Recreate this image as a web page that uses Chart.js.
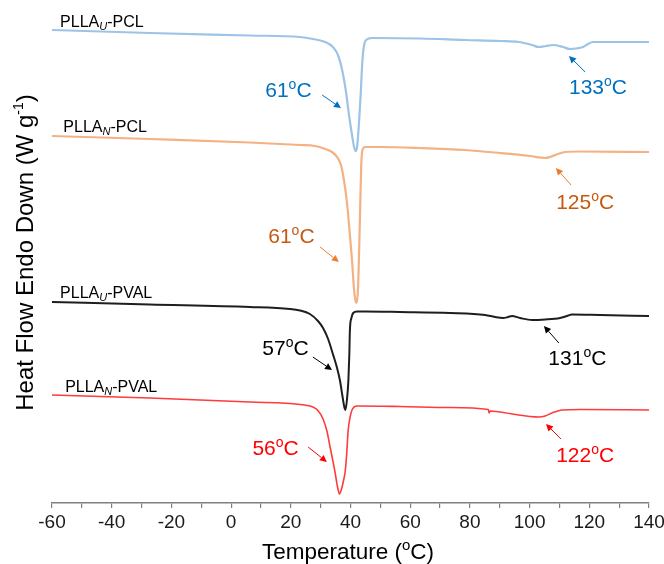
<!DOCTYPE html>
<html>
<head>
<meta charset="utf-8">
<script src="https://cdn.jsdelivr.net/npm/chart.js@4.4.1/dist/chart.umd.min.js"></script>
<style>
html,body{margin:0;padding:0;background:#ffffff;}
#wrap{width:664px;height:564px;position:relative;}
</style>
</head>
<body>
<div id="wrap"><canvas id="c" width="664" height="564"></canvas></div>
<script>
// ---- Data (temperature in ºC, heat flow in arbitrary offset units) ----
const xTickValues = [-60, -40, -20, 0, 20, 40, 60, 80, 100, 120, 140];

const pclU_T  = [-60, -27.2, 6.3, 23.1, 27.4, 31.5, 34.1, 35.8, 37.2, 38.5, 39.5, 40.5, 41.2, 41.7, 42.2, 42.8, 43.4, 43.9, 44.4, 45.2, 47.2, 63.3, 78.4, 90.1, 96.4, 100.8, 103.1, 105.5, 107.8, 111.2, 113.5, 115.5, 117.9, 119.6, 121.2, 126.9, 140];
const pclU_HF = [473, 470, 467.5, 466, 464, 461, 456, 448, 433, 411, 388, 368, 356, 352, 356, 378, 408, 438, 455, 463, 465, 464.5, 463, 462, 461, 458, 456, 457, 458, 456, 454, 454.5, 456, 459, 461, 461, 461];

const pclN_T  = [-60, -27.2, 6.3, 23.1, 28.1, 31.5, 33.8, 35.5, 36.8, 37.8, 38.8, 39.8, 40.5, 41.2, 41.7, 42.0, 42.5, 42.9, 43.3, 43.6, 44.0, 44.9, 49.9, 63.3, 78.4, 90.1, 100.1, 105.2, 106.8, 109.5, 111.9, 116.9, 140];
const pclN_HF = [367, 364, 360.5, 358, 357, 354, 351, 346, 338, 323, 301, 268, 243, 213, 202, 200, 213, 253, 303, 338, 353, 356, 356, 355, 353, 350, 347, 345, 346, 349, 351, 351.5, 351];

const pvalU_T  = [-60, -27.2, 6.3, 19.7, 23.1, 26.4, 29.1, 30.8, 32.5, 34.1, 35.5, 36.5, 37.3, 38.0, 38.3, 38.8, 39.3, 39.6, 39.8, 40.3, 40.9, 42.2, 44.9, 56.6, 73.3, 85.1, 88.4, 91.1, 92.8, 94.1, 96.8, 100.8, 105.2, 110.2, 112.5, 114.2, 123.6, 140];
const pvalU_HF = [201, 198.5, 196, 194, 192.5, 189, 182, 175, 164, 149, 135, 122, 107, 95, 93, 103, 123, 148, 173, 185, 190, 191.5, 191.5, 191, 190, 188, 186, 185, 186, 187, 185, 183, 183.5, 185, 187, 188.5, 188, 187];

const pvalN_T  = [-60, -27.2, 6.3, 23.1, 27.4, 29.1, 30.8, 32.1, 33.1, 34.1, 34.8, 35.6, 36.3, 37.0, 37.7, 38.2, 38.7, 39.2, 39.8, 40.5, 42.2, 56.6, 73.3, 86.2, 86.4, 86.7, 90.1, 96.4, 100.1, 103.1, 105.2, 107.5, 110.9, 116.9, 140];
const pvalN_HF = [108, 105, 101, 98.5, 96, 92.5, 84, 72, 57, 42, 31, 17, 9, 14, 23, 31, 48, 72, 85, 93, 97, 96.5, 95.5, 93.5, 90, 92, 91, 88, 86.5, 86, 87, 90, 93, 93.5, 93];

// Series names: [main, subscript, suffix]
const seriesNames = [['PLLA', 'U', '-PCL'], ['PLLA', 'N', '-PCL'], ['PLLA', 'U', '-PVAL'], ['PLLA', 'N', '-PVAL']];
// Peak temperature labels (ºC)
const peakLabels = ['61', '133', '61', '125', '57', '131', '56', '122'];

// ---- Presentation ----
const FONT = '"Liberation Sans", Arial, Helvetica, sans-serif';
const lineColors = ['#9DC3E6', '#F4B183', '#1E1E1E', '#FF3B3B'];
const textColors = ['#0070C0', '#C55A11', '#000000', '#FF0000'];
const arrowColors = ['#0070C0', '#ED7D31', '#000000', '#FF0000'];

// name label anchors (left, baseline) in data coords
const nameAnchors = [[-57.3, 476.3], [-56.2, 371], [-57.3, 205], [-55.6, 111]];
// peak label centres in data coords
const peakAnchors = [[19.2, 414], [122.9, 417], [20.2, 267.5], [118.6, 302], [18.2, 155.5], [116.0, 145.5], [14.9, 56], [118.6, 48.5]];
// arrows [fromT, fromHF, toT, toHF]
const peakArrows = [[30.5, 408, 36.8, 395], [118.6, 431, 113.2, 447], [29.8, 256, 36.1, 241], [113.9, 318, 108.8, 335], [27.4, 146, 33.8, 133], [109.8, 160, 104.8, 177], [25.8, 56, 32.1, 41], [110.5, 64, 105.5, 79]];

function pts(T, H) { return T.map((t, i) => ({ x: t, y: H[i] })); }

function drawDeg(ctx, num, cx, cy, size, color) {
  const big = size + 'px ' + FONT;
  const small = Math.round(size * 0.66) + 'px ' + FONT;
  ctx.font = big;
  const w1 = ctx.measureText(num).width;
  const w3 = ctx.measureText('C').width;
  ctx.font = small;
  const w2 = ctx.measureText('o').width;
  const x0 = cx - (w1 + w2 + w3) / 2;
  const base = cy + size * 0.716 / 2;
  ctx.fillStyle = color;
  ctx.textAlign = 'left';
  ctx.textBaseline = 'alphabetic';
  ctx.font = big; ctx.fillText(num, x0, base);
  ctx.font = small; ctx.fillText('o', x0 + w1, base - size * 0.38);
  ctx.font = big; ctx.fillText('C', x0 + w1 + w2, base);
}

function drawName(ctx, parts, x, base, size) {
  const big = size + 'px ' + FONT;
  const sub = 'italic ' + Math.round(size * 0.68) + 'px ' + FONT;
  ctx.fillStyle = '#000';
  ctx.textAlign = 'left';
  ctx.textBaseline = 'alphabetic';
  ctx.font = big; ctx.fillText(parts[0], x, base);
  let w = ctx.measureText(parts[0]).width;
  ctx.font = sub; ctx.fillText(parts[1], x + w, base + size * 0.2);
  w += ctx.measureText(parts[1]).width;
  ctx.font = big; ctx.fillText(parts[2], x + w, base);
}

function drawArrow(ctx, x1, y1, x2, y2, color) {
  ctx.strokeStyle = color; ctx.fillStyle = color; ctx.lineWidth = 1;
  const a = Math.atan2(y2 - y1, x2 - x1);
  const L = 7, W = 3.5;
  const bx = x2 - L * Math.cos(a), by = y2 - L * Math.sin(a);
  ctx.beginPath(); ctx.moveTo(x1, y1); ctx.lineTo(bx, by); ctx.stroke();
  ctx.beginPath();
  ctx.moveTo(x2, y2);
  ctx.lineTo(bx + W * Math.sin(a), by - W * Math.cos(a));
  ctx.lineTo(bx - W * Math.sin(a), by + W * Math.cos(a));
  ctx.closePath(); ctx.fill();
}

const annotPlugin = {
  id: 'annot',
  afterDraw(chart) {
    const ctx = chart.ctx;
    const xs = chart.scales.x, ys = chart.scales.y;
    ctx.save();
    seriesNames.forEach((p, i) => {
      drawName(ctx, p, xs.getPixelForValue(nameAnchors[i][0]), ys.getPixelForValue(nameAnchors[i][1]), 16);
    });
    peakLabels.forEach((t, i) => {
      const s = Math.floor(i / 2);
      drawDeg(ctx, t, xs.getPixelForValue(peakAnchors[i][0]), ys.getPixelForValue(peakAnchors[i][1]), 21, textColors[s]);
      const a = peakArrows[i];
      drawArrow(ctx, xs.getPixelForValue(a[0]), ys.getPixelForValue(a[1]), xs.getPixelForValue(a[2]), ys.getPixelForValue(a[3]), arrowColors[s]);
    });
    // x axis title
    {
      const size = 22.5;
      const big = size + 'px ' + FONT, small = Math.round(size * 0.66) + 'px ' + FONT;
      ctx.font = big;
      const a = 'Temperature (', c = 'C)';
      const wa = ctx.measureText(a).width, wc = ctx.measureText(c).width;
      ctx.font = small; const wo = ctx.measureText('o').width;
      const x0 = 348 - (wa + wo + wc) / 2;
      const base = 559;
      ctx.fillStyle = '#000'; ctx.textAlign = 'left'; ctx.textBaseline = 'alphabetic';
      ctx.font = big; ctx.fillText(a, x0, base);
      ctx.font = small; ctx.fillText('o', x0 + wa, base - size * 0.38);
      ctx.font = big; ctx.fillText(c, x0 + wa + wo, base);
    }
    // y axis title (rotated)
    {
      const size = 24;
      const big = size + 'px ' + FONT, small = Math.round(size * 0.6) + 'px ' + FONT;
      const a = 'Heat Flow Endo Down (W g', s = '-1', c = ')';
      ctx.font = big;
      const wa = ctx.measureText(a).width, wc = ctx.measureText(c).width;
      ctx.font = small; const ws = ctx.measureText(s).width;
      ctx.translate(33, 252.5);
      ctx.rotate(-Math.PI / 2);
      const x0 = -(wa + ws + wc) / 2;
      ctx.fillStyle = '#000'; ctx.textAlign = 'left'; ctx.textBaseline = 'alphabetic';
      ctx.font = big; ctx.fillText(a, x0, 0);
      ctx.font = small; ctx.fillText(s, x0 + wa, -size * 0.42);
      ctx.font = big; ctx.fillText(c, x0 + wa + ws, 0);
    }
    ctx.restore();
  }
};

const datasets = [
  { data: pts(pclU_T, pclU_HF), borderColor: lineColors[0], borderWidth: 2.2 },
  { data: pts(pclN_T, pclN_HF), borderColor: lineColors[1], borderWidth: 2.2 },
  { data: pts(pvalU_T, pvalU_HF), borderColor: lineColors[2], borderWidth: 2 },
  { data: pts(pvalN_T, pvalN_HF), borderColor: lineColors[3], borderWidth: 1.6 }
].map(d => Object.assign(d, { pointRadius: 0, fill: false, cubicInterpolationMode: 'monotone' }));

new Chart(document.getElementById('c'), {
  type: 'line',
  data: { datasets },
  options: {
    responsive: false,
    devicePixelRatio: 1,
    animation: false,
    layout: { padding: { left: 52, right: 15, top: 10, bottom: 0 } },
    plugins: { legend: { display: false }, tooltip: { enabled: false } },
    scales: {
      x: {
        type: 'linear', min: -60, max: 140,
        afterFit(scale) { scale.height = 61; scale.paddingRight = 0; scale.paddingLeft = 0; },
        afterBuildTicks(scale) {
          const t = [];
          for (let v = -60; v <= 140; v += 10) t.push({ value: v });
          scale.ticks = t;
        },
        ticks: {
          autoSkip: false, maxRotation: 0, padding: 3,
          color: '#1a1a1a',
          font: { family: FONT, size: 19 },
          callback: (v) => xTickValues.includes(v) ? String(v) : ''
        },
        grid: { drawOnChartArea: false, drawTicks: true, tickLength: 5, color: '#808080', lineWidth: 1.2 },
        border: { display: true, color: '#808080', width: 1.5 }
      },
      y: { type: 'linear', min: 0, max: 493, display: false }
    }
  },
  plugins: [annotPlugin]
});
</script>
</body>
</html>
